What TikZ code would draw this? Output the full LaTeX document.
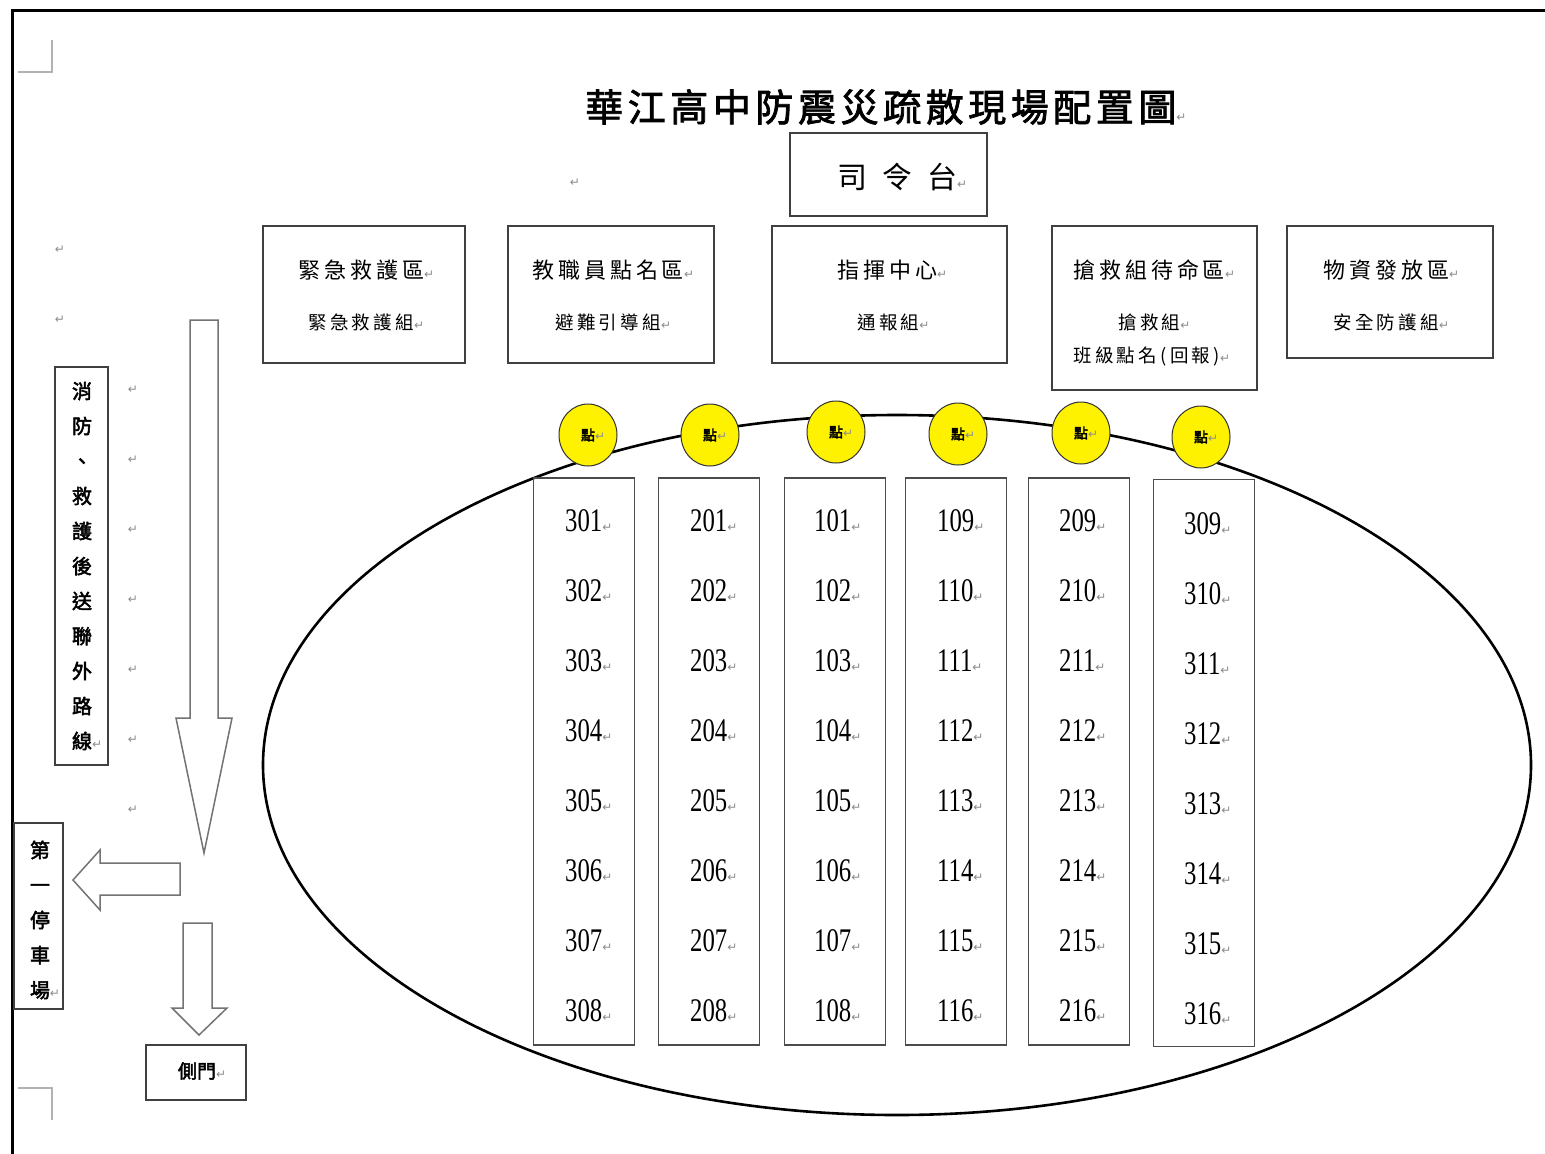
\documentclass[tikz,border=0pt]{standalone}
\usepackage{fontspec}
\usetikzlibrary{shapes.geometric}
\newfontfamily\cjk{Noto Sans CJK TC}
\newfontfamily\cjktitle[LetterSpace=12,FakeBold=2]{Noto Sans CJK TC}
\newfontfamily\cjkwide[LetterSpace=50]{Noto Sans CJK TC}
\newfontfamily\cjkbox[LetterSpace=18]{Noto Sans CJK TC}
\newfontfamily\cjkbold[FakeBold=2.5]{Noto Sans CJK TC}
\newfontfamily\numfont[FakeStretch=0.75]{Liberation Serif}
\newfontfamily\retfont{DejaVu Sans}
\newcommand{\ret}{{\retfont\fontsize{12}{12}\selectfont\color{black!45}↵}}
\begin{document}
\begin{tikzpicture}[x=1pt,y=-1pt,
  boxline/.style={draw=black!75, line width=1.4pt},
  zone/.style={boxline, rectangle, inner sep=0pt},
  colbox/.style={draw=black!70, line width=1.3pt, rectangle, inner sep=0pt, minimum width=101pt, minimum height=567pt},
  lbl/.style={anchor=west, inner sep=0pt, font=\cjkbox\fontsize{22}{22}\selectfont},
  sublbl/.style={anchor=west, inner sep=0pt, font=\cjkbox\fontsize{18.5}{18.5}\selectfont},
  num/.style={anchor=west, inner sep=0pt, font=\numfont\fontsize{33}{33}\selectfont},
  retn/.style={inner sep=0pt},
  spot/.style={ellipse, draw=black!80, line width=1pt, fill=yellow, minimum width=58pt, minimum height=62pt, inner sep=0pt, font=\cjkbold\fontsize{14}{14}\selectfont},
  blockarrow/.style={draw=black!55, line width=1.5pt, fill=white, line join=miter}
]
\useasboundingbox (0,0) rectangle (1545,1154);
\fill[white] (0,0) rectangle (1545,1154);
% page frame
\draw[line width=3pt] (12,1154) -- (12,10) -- (1545,10);
\draw[black!30, line width=1.5pt] (18,72) -- (52,72) -- (52,40);
\draw[black!30, line width=1.5pt] (18,1088) -- (52,1088) -- (52,1120);

% title
\node[anchor=west, inner sep=0pt, font=\cjktitle\fontsize{38}{38}\selectfont] (title) at (585,107) {華江高中防震災疏散現場配置圖\ret};

% stage
\node[zone, minimum width=197pt, minimum height=83pt] (stage) at (888.5,174.5) {};
\node[anchor=west, inner sep=0pt, font=\cjkwide\fontsize{30}{30}\selectfont] (stagetxt) at (837,177) {司令台\ret};

% free paragraph marks
\node[retn] (m0) at (575,183) {\ret};
\node[retn] (m1) at (60,250) {\ret};
\node[retn] (m2) at (60,320) {\ret};
\foreach \yy [count=\i] in {390,460,530,600,670,740,810}
  \node[retn] (k\i) at (133,\yy) {\ret};

% top zones
\node[zone, minimum width=202pt, minimum height=137pt] (z1) at (364,294.5) {};
\node[lbl] (z1a) at (298,270) {緊急救護區\ret};
\node[sublbl] (z1b) at (308,322) {緊急救護組\ret};

\node[zone, minimum width=206pt, minimum height=137pt] (z2) at (611,294.5) {};
\node[lbl] (z2a) at (532,270) {教職員點名區\ret};
\node[sublbl] (z2b) at (555,322) {避難引導組\ret};

\node[zone, minimum width=235pt, minimum height=137pt] (z3) at (889.5,294.5) {};
\node[lbl] (z3a) at (837,270) {指揮中心\ret};
\node[sublbl] (z3b) at (857,322) {通報組\ret};

\node[zone, minimum width=205pt, minimum height=164pt] (z4) at (1154.5,308) {};
\node[lbl] (z4a) at (1073,270) {搶救組待命區\ret};
\node[sublbl] (z4b) at (1118,322) {搶救組\ret};
\node[sublbl] (z4c) at (1073,357) {班級點名(回報)\ret};

\node[zone, minimum width=206pt, minimum height=132pt] (z5) at (1390,292) {};
\node[lbl] (z5a) at (1323,270) {物資發放區\ret};
\node[sublbl] (z5b) at (1333,322) {安全防護組\ret};

% left route box
\node[zone, minimum width=53pt, minimum height=398pt] (route) at (81.5,566) {};
\node[inner sep=0pt, align=center, font=\cjkbold\fontsize{20}{35}\selectfont] (routetxt) at (82,566)
  {消\\防\\、\\救\\護\\後\\送\\聯\\外\\路\\線\rlap{\ret}};

% parking box
\node[zone, minimum width=49pt, minimum height=186pt] (park) at (38.5,916) {};
\node[inner sep=0pt, align=center, font=\cjkbold\fontsize{20}{35}\selectfont] (parktxt) at (40,920)
  {第\\一\\停\\車\\場\rlap{\ret}};

% side gate box
\node[zone, minimum width=100pt, minimum height=55pt] (gate) at (196,1072.5) {};
\node[inner sep=0pt, font=\cjkbold\fontsize{19}{19}\selectfont] (gatetxt) at (197,1071) {側門\rlap{\ret}};

% block arrows
\draw[blockarrow] (190,320) -- (218,320) -- (218,718) -- (232,718) -- (204,853) -- (176,718) -- (190,718) -- cycle;
\draw[blockarrow] (180,863) -- (100,863) -- (100,850) -- (73,880) -- (100,910) -- (100,895) -- (180,895) -- cycle;
\draw[blockarrow] (183,923) -- (212,923) -- (212,1008) -- (227,1008) -- (199,1035) -- (172,1008) -- (183,1008) -- cycle;

% assembly ellipse
\draw[line width=2.6pt] (897,765) ellipse [x radius=634pt, y radius=350pt];

% class columns
\foreach \cx/\tx/\base/\dy [count=\c] in {584/565/300/0, 709/690/200/0, 835/814/100/0, 956/937/108/0, 1079/1059/208/0, 1204/1184/308/3} {
  \node[colbox] (col\c) at (\cx,761.5+\dy/2) {};
  \foreach \r in {1,...,8} {
    \pgfmathtruncatemacro{\room}{\base+\r}
    \pgfmathsetmacro{\ry}{521+70*(\r-1)+\dy}
    \node[num] (c\c r\r) at (\tx,\ry) {\room\ret};
  }
}

% gathering spots
\foreach \px/\py [count=\i] in {588/435, 710/435, 836/432, 958/434, 1081/433, 1201/437}
  \node[spot] (spot\i) at (\px,\py) {點\rlap{\ret}};
\end{tikzpicture}
\end{document}
